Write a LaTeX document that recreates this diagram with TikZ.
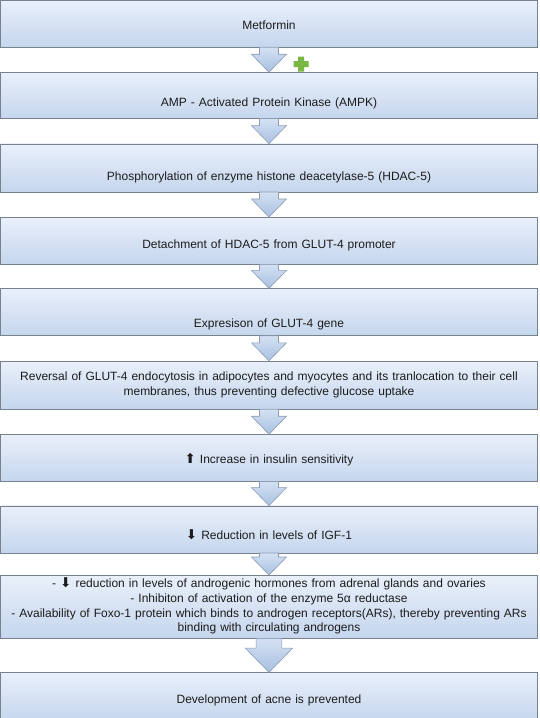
\documentclass[tikz,border=0pt]{standalone}
\usepackage{fontspec}
\setmainfont{Liberation Sans}
\newfontfamily\arrowfont{DejaVu Sans}
\newcommand{\uparr}{\raisebox{0pt}[0pt][0pt]{\arrowfont\fontsize{13.5}{13.5}\selectfont ⬆}}
\newcommand{\downarr}{\raisebox{0pt}[0pt][0pt]{\arrowfont\fontsize{13.5}{13.5}\selectfont ⬇}}
\usetikzlibrary{positioning}
\definecolor{boxtop}{RGB}{233,240,250}
\definecolor{boxbottom}{RGB}{197,214,237}
\definecolor{boxline}{RGB}{120,130,143}
\definecolor{arrowtop}{RGB}{212,225,243}
\definecolor{arrowbottom}{RGB}{168,192,225}
\definecolor{arrowline}{RGB}{140,156,178}
\definecolor{plusgreen}{RGB}{122,184,70}
\definecolor{textgray}{RGB}{28,28,28}
\tikzset{
	stage/.style={
		draw=boxline,
		top color=boxtop,
		bottom color=boxbottom,
		minimum width=537pt,
		minimum height=47pt,
		inner sep=0pt,
		align=center,
		text width=534pt,
		text=textgray,
		font=\fontsize{12}{14.7}\selectfont
	},
	textdrop/.style={
		text height=#1,
		text depth=0pt
	},
	flow/.style={
		draw=arrowline,
		top color=arrowtop,
		bottom color=arrowbottom,
		line width=0.6pt
	},
	plussign/.style={
		fill=plusgreen,
		draw=none
	}
}

\begin{document}
\begin{tikzpicture}
		\useasboundingbox (0,0) rectangle (539pt,-718pt);
		
		\node(metformin)[stage, textdrop=12pt] at (269pt,-23.5pt) {Metformin};
		\node(ampk)[stage, textdrop=23pt, minimum height=46pt, below=25pt of metformin] {AMP - Activated Protein Kinase (AMPK)};
		\node(phospho)[stage, textdrop=25pt, minimum height=48pt, below=25pt of ampk] {Phosphorylation of enzyme histone deacetylase-5 (HDAC-5)};
		\node(detach)[stage, textdrop=15pt, below=25pt of phospho] {Detachment of HDAC-5 from GLUT-4 promoter};
		\node(expr)[stage, textdrop=30pt, below=24pt of detach] {Expresison of GLUT-4 gene};
		\node(reversal)[stage, minimum height=48pt, below=25pt of expr] {Reversal of GLUT-4 endocytosis in adipocytes and myocytes and its tranlocation to their cell\\ membranes, thus preventing defective glucose uptake};
		\node(insulin)[stage, textdrop=12pt, below=25pt of reversal] {\uparr\ Increase in insulin sensitivity};
		\node(igf)[stage, textdrop=21pt, below=24pt of insulin] {\downarr\ Reduction in levels of IGF-1};
		\node(androgen)[stage, minimum height=63pt, below=22pt of igf] {- \downarr\ reduction in levels of androgenic hormones from adrenal glands and ovaries\\ - Inhibiton of activation of the enzyme 5α reductase\\ - Availability of Foxo-1 protein which binds to androgen receptors(ARs), thereby preventing ARs\\ binding with circulating androgens};
		\node(acne)[stage, textdrop=14pt, minimum height=48pt, below=34pt of androgen] {Development of acne is prevented};
		
		% block arrows between the stages
		\foreach \from/\to/\s in {metformin/ampk/1, ampk/phospho/1, phospho/detach/1, detach/expr/1, expr/reversal/1, reversal/insulin/1, insulin/igf/1, igf/androgen/1, androgen/acne/1.35}{
			\draw[flow] ([xshift=-9.5pt*\s]\from.south) -- ([xshift=-9.5pt*\s, yshift=18pt*\s]\to.north) -- ([xshift=-17.5pt*\s, yshift=18pt*\s]\to.north) -- (\to.north) -- ([xshift=17.5pt*\s, yshift=18pt*\s]\to.north) -- ([xshift=9.5pt*\s, yshift=18pt*\s]\to.north) -- ([xshift=9.5pt*\s]\from.south) -- cycle;
		};
		
		% green plus beside the first arrow
		\coordinate(activates) at (301pt,-64pt);
		\fill[plussign] ([shift={(-3pt,-7.5pt)}]activates) -- ++(6pt,0) -- ++(0,4.5pt) -- ++(4.5pt,0) -- ++(0,6pt) -- ++(-4.5pt,0) -- ++(0,4.5pt) -- ++(-6pt,0) -- ++(0,-4.5pt) -- ++(-4.5pt,0) -- ++(0,-6pt) -- ++(4.5pt,0) -- cycle;
		
\end{tikzpicture}
\end{document}
